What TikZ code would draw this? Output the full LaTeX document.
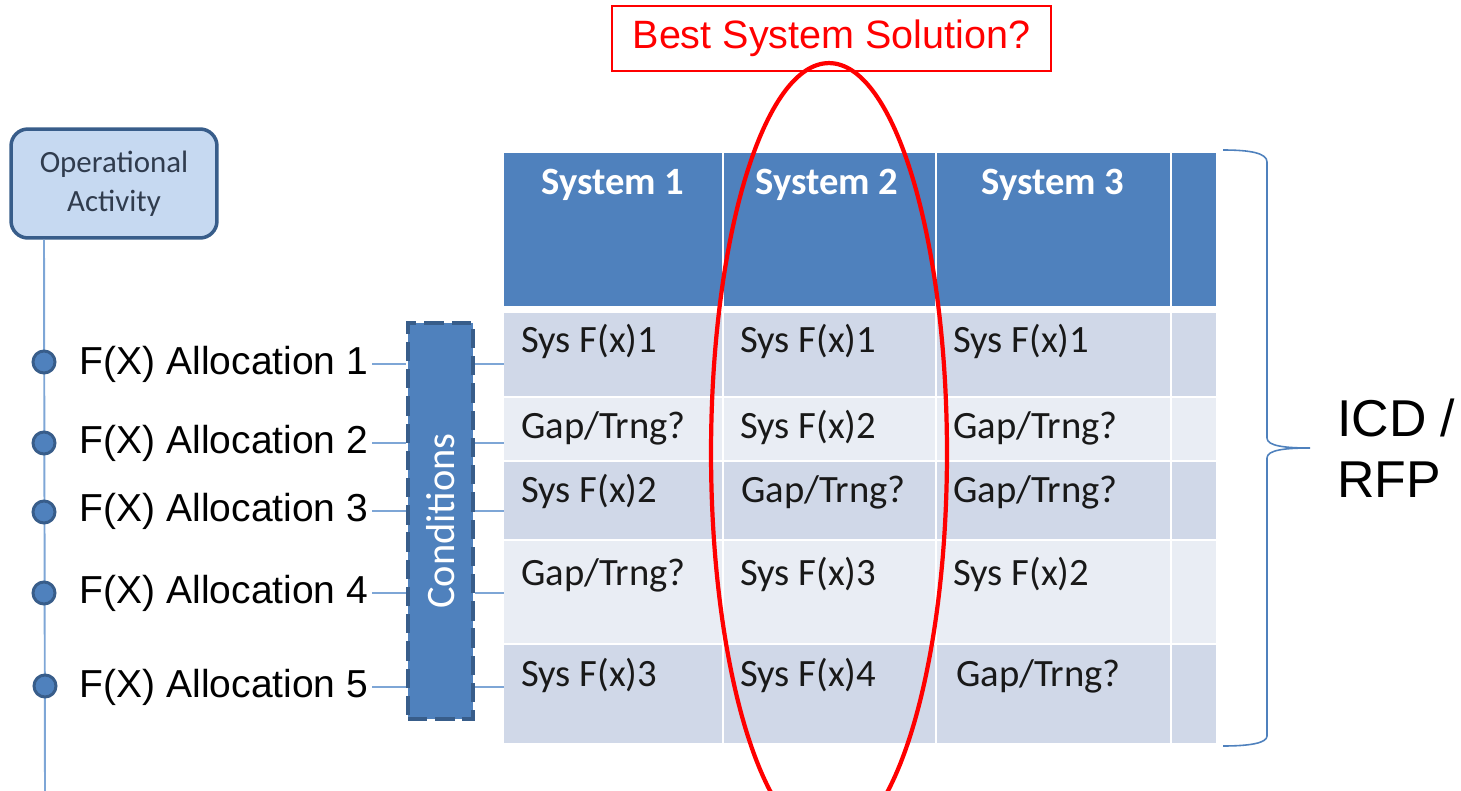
\documentclass[tikz,border=0pt]{standalone}
\usepackage{fontspec}
\setmainfont{Liberation Sans}
\newfontfamily\calibri{Carlito}
\usepackage{tikz}
\usetikzlibrary{shapes}
\definecolor{hdrblue}{RGB}{79,129,189}
\definecolor{rowdark}{RGB}{208,216,232}
\definecolor{rowlight}{RGB}{233,237,244}
\definecolor{edgeblue}{RGB}{56,93,138}
\definecolor{paleact}{RGB}{198,217,241}
\definecolor{linkblue}{RGB}{126,166,214}
\definecolor{acttext}{RGB}{48,60,78}
\definecolor{celltext}{RGB}{25,25,25}
\definecolor{hotred}{RGB}{255,0,0}
\tikzstyle{activity} = [rectangle, draw=edgeblue, fill=paleact, line width=2pt,
    rounded corners=0.34cm, minimum width=4.12cm, minimum height=2.18cm,
    align=center, text=acttext, font=\calibri\fontsize{17.6}{22.2}\selectfont]
\tikzstyle{joint} = [circle, draw=edgeblue, fill=hdrblue, line width=1.7pt,
    minimum size=0.44cm, inner sep=0pt]
\tikzstyle{alloc} = [anchor=base west, inner sep=2pt, font=\fontsize{22.2}{26}\selectfont]
\tikzstyle{cond} = [rectangle, draw=edgeblue, fill=hdrblue, line width=2pt,
    dash pattern=on 11pt off 4.5pt, minimum width=1.3cm, minimum height=7.92cm, inner sep=0pt]
\tikzstyle{band} = [rectangle, anchor=north west, inner sep=0pt, outer sep=0pt, minimum width=14.24cm]
\tikzstyle{colhead} = [anchor=base, text=white, font=\calibri\bfseries\fontsize{22}{26}\selectfont]
\tikzstyle{cell} = [anchor=base west, inner sep=0pt, text=celltext, font=\calibri\fontsize{22}{26}\selectfont]
\tikzstyle{link} = [draw=linkblue, line width=0.8pt]
\tikzstyle{trunk} = [draw=linkblue, line width=1.1pt]
\tikzstyle{question} = [rectangle, draw=hotred, fill=white, line width=0.8pt,
    minimum width=8.78cm, minimum height=1.3cm, text=hotred, font=\fontsize{22.5}{27}\selectfont]
\tikzstyle{pick} = [ellipse, draw=hotred, line width=2.4pt, minimum width=4.72cm,
    minimum height=15.6cm, inner sep=0pt]
\tikzstyle{bracepath} = [draw=hdrblue, line width=0.9pt]

\begin{document}
\begin{tikzpicture}[x=0.02cm, y=-0.02cm]
    \clip (0,0) rectangle (1461,791);

    % table
    \node[band, fill=hdrblue, minimum height=3.06cm] (hdr) at (504,153) {};
    \node[band, fill=rowdark, minimum height=1.66cm] (row1) at (504,313) {};
    \node[band, fill=rowlight, minimum height=1.24cm] (row2) at (504,398) {};
    \node[band, fill=rowdark, minimum height=1.54cm] (row3) at (504,462) {};
    \node[band, fill=rowlight, minimum height=2.04cm] (row4) at (504,541) {};
    \node[band, fill=rowdark, minimum height=1.96cm] (row5) at (504,645) {};
    \draw[white, line width=1.2pt] (723,153) -- (723,743) (936,153) -- (936,743)
        (1171,153) -- (1171,743);

    \node[colhead] (sys1) at (613,194) {System 1};
    \node[colhead] (sys2) at (827,194) {System 2};
    \node[colhead] (sys3) at (1053,194) {System 3};

    \node[cell] (c11) at (521,352) {Sys F(x)1};
    \node[cell] (c12) at (740,352) {Sys F(x)1};
    \node[cell] (c13) at (953,352) {Sys F(x)1};
    \node[cell] (c21) at (521,438) {Gap/Trng?};
    \node[cell] (c22) at (740,438) {Sys F(x)2};
    \node[cell] (c23) at (953,438) {Gap/Trng?};
    \node[cell] (c31) at (521,502) {Sys F(x)2};
    \node[cell] (c32) at (741,502) {Gap/Trng?};
    \node[cell] (c33) at (953,502) {Gap/Trng?};
    \node[cell] (c41) at (521,585) {Gap/Trng?};
    \node[cell] (c42) at (740,585) {Sys F(x)3};
    \node[cell] (c43) at (953,585) {Sys F(x)2};
    \node[cell] (c51) at (521,686) {Sys F(x)3};
    \node[cell] (c52) at (740,686) {Sys F(x)4};
    \node[cell] (c53) at (956,686) {Gap/Trng?};

    % activity and its allocations
    \node[activity] (opact) at (114,183.5) {Operational\\Activity};
    \coordinate (bottom) at (45,791);
    \coordinate (d1) at (44,362);
    \path[trunk] (opact.south -| d1) -- (bottom);
    \node[joint] (j1) at (d1) {};
    \node[joint] (j2) at (44,443) {};
    \node[joint] (j3) at (44,512) {};
    \node[joint] (j4) at (44,593) {};
    \node[joint] (j5) at (45,686) {};

    \node[alloc] (lab1) at (76,374) {F(X) Allocation 1};
    \node[alloc] (lab2) at (76,453) {F(X) Allocation 2};
    \node[alloc] (lab3) at (76,521) {F(X) Allocation 3};
    \node[alloc] (lab4) at (76,603) {F(X) Allocation 4};
    \node[alloc] (lab5) at (76,697) {F(X) Allocation 5};

    \node[cond, label={[rotate=90, text=white, font=\calibri\fontsize{23}{27}\selectfont]center:Conditions}]
        (cond) at (440.5,521) {};

    \path[link] (lab1.east) -- (lab1.east -| cond.west);
    \path[link] (lab2.east) -- (lab2.east -| cond.west);
    \path[link] (lab3.east) -- (lab3.east -| cond.west);
    \path[link] (lab4.east) -- (lab4.east -| cond.west);
    \path[link] (lab5.east) -- (lab5.east -| cond.west);
    \path[link] (lab1.east -| cond.east) -- (lab1.east -| row1.west);
    \path[link] (lab2.east -| cond.east) -- (lab2.east -| row1.west);
    \path[link] (lab3.east -| cond.east) -- (lab3.east -| row1.west);
    \path[link] (lab4.east -| cond.east) -- (lab4.east -| row1.west);
    \path[link] (lab5.east -| cond.east) -- (lab5.east -| row1.west);

    % best solution
    \node[question] (best) at (831.5,38.5) {Best System Solution?};
    \node[pick] (ring) at (829,453) {};

    % brace and label
    \path[bracepath] (1223,150) .. controls (1250,150) and (1267,153) .. (1267,162)
        -- (1267,438) .. controls (1267,446) and (1285,448) .. (1310,448)
        .. controls (1285,448) and (1267,450) .. (1267,458)
        -- (1267,736) .. controls (1267,743) and (1250,746) .. (1223,746);
    \node[anchor=west, align=left, inner sep=0pt, font=\fontsize{29.5}{35}\selectfont]
        (icd) at (1337,448) {ICD /\\RFP};
\end{tikzpicture}
\end{document}
